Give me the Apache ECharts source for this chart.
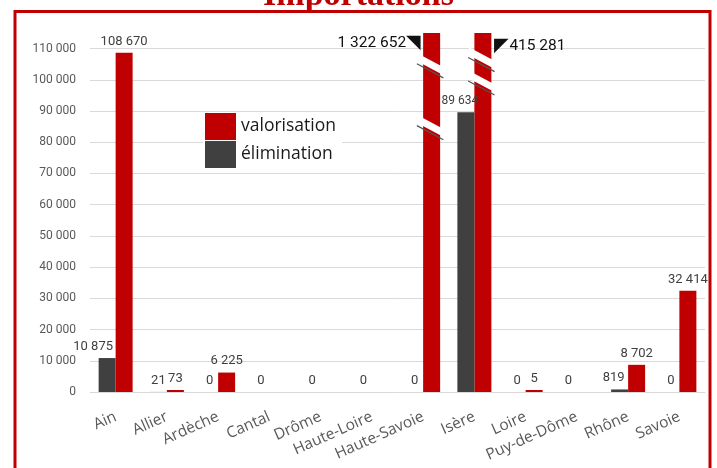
<!DOCTYPE html>
<html><head><meta charset="utf-8">
<script src="https://cdn.jsdelivr.net/npm/echarts@6/dist/echarts.min.js"></script>
<style>html,body{margin:0;padding:0;background:#fff}#c{width:717px;height:468px}</style>
</head><body><div id="c"></div>
<script>
const categories = ['Ain','Allier','Ardèche','Cantal','Drôme','Haute-Loire','Haute-Savoie','Isère','Loire','Puy-de-Dôme','Rhône','Savoie'];
const valorisation = [108670, 73, 6225, null, null, null, 1322652, 415281, 5, null, 8702, 32414];
const elimination = [10875, 21, 0, 0, 0, 0, 0, 89634, 0, 0, 819, 0];
// break marks on the truncated bars: [category, value]
const breakMarks = [['Haute-Savoie', 104800], ['Haute-Savoie', 85000], ['Isère', 106800], ['Isère', 99300]];
const yTicks = {min: 0, max: 115000, interval: 10000};

const fmt = v => String(v).replace(/\B(?=(\d{3})+(?!\d))/g, ' ');
const RED = '#c00000', DARK = '#404040';

const valData = valorisation.map((v, i) => {
  if (categories[i] === 'Haute-Savoie') return {value: v, label: {show: true, position: [-2, 10], align: 'right', verticalAlign: 'middle',
    formatter: p => '{t|' + fmt(p.value) + '}{a|◥}', rich: {t: {fontSize: 15.5, color: '#111'}, a: {fontSize: 19, color: '#111'}}}};
  if (categories[i] === 'Isère') return {value: v, label: {show: true, position: [20, 13], align: 'left', verticalAlign: 'middle',
    formatter: p => '{a|◤}{t|' + fmt(p.value) + '}', rich: {t: {fontSize: 15.5, color: '#111'}, a: {fontSize: 19, color: '#111'}}}};
  return v;
});
const elimData = elimination.map((v, i) => {
  if (categories[i] === 'Ain') return {value: v, label: {offset: [-14, 0]}};
  if (categories[i] === 'Isère') return {value: v, label: {fontSize: 12, offset: [-6, 0]}};
  if (categories[i] === 'Rhône') return {value: v, label: {offset: [-6, 0]}};
  return v;
});

const chart = echarts.init(document.getElementById('c'));
chart.setOption({
  animation: false,
  textStyle: {fontFamily: 'Roboto'},
  title: {text: 'Importations', left: 'center', top: -26, textStyle: {fontFamily: 'Liberation Serif', fontWeight: 'bold', fontSize: 34, color: RED}},
  graphic: [{type: 'rect', shape: {x: 15, y: 11.5, width: 695, height: 480}, style: {fill: 'none', stroke: RED, lineWidth: 3}, z: 100}],
  legend: {
    data: ['valorisation', 'élimination'], orient: 'vertical', left: 203, top: 113,
    itemWidth: 31, itemHeight: 27, itemGap: 1, backgroundColor: '#fff', padding: [0, 6, 0, 2],
    textStyle: {fontSize: 17.5, color: '#1a1a1a', fontFamily: 'Open Sans'}, icon: 'rect'
  },
  grid: {left: 90, right: 12, top: 33, bottom: 76},
  xAxis: {
    type: 'category', data: categories,
    axisLine: {lineStyle: {color: '#d9d9d9'}}, axisTick: {show: false},
    axisLabel: {rotate: 24, fontSize: 15.5, color: '#595959', margin: 24, interval: 0, fontFamily: 'Open Sans'}
  },
  yAxis: {
    type: 'value', min: yTicks.min, max: yTicks.max, interval: yTicks.interval,
    axisLine: {show: false}, axisTick: {show: false},
    splitLine: {lineStyle: {color: '#d9d9d9'}, showMaxLine: false},
    axisLabel: {showMaxLabel: false, fontSize: 12, color: '#595959', margin: 14, formatter: v => v % 10000 === 0 ? fmt(v) : ''}
  },
  series: [
    {name: 'élimination', type: 'bar', z: 3, data: elimData, barWidth: 17, barGap: '0%', itemStyle: {color: DARK},
     label: {show: true, position: 'top', fontSize: 13, color: '#404040', formatter: p => fmt(p.value)}},
    {name: 'valorisation', type: 'bar', z: 2, data: valData, barWidth: 17, barMinHeight: 2, itemStyle: {color: RED},
     label: {show: true, position: 'top', fontSize: 13, color: '#404040', formatter: p => p.value == null ? '' : fmt(p.value)}},
    {type: 'scatter', data: breakMarks, symbol: 'rect', symbolSize: [34, 7], symbolRotate: -28, symbolOffset: [8.5, 0],
     itemStyle: {color: '#fff', opacity: 1}, z: 10, silent: true},
    {type: 'scatter', data: breakMarks, symbol: 'rect', symbolSize: [30, 1.2], symbolRotate: -28, symbolOffset: [7, 6],
     itemStyle: {color: '#555', opacity: 1}, z: 11, silent: true}
  ]
});
</script></body></html>
